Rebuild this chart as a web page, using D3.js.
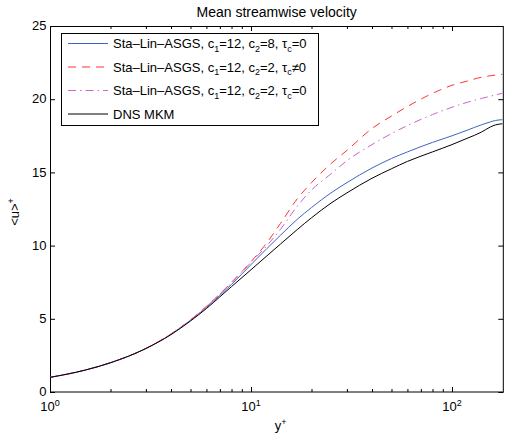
<!DOCTYPE html>
<html>
<head>
<meta charset="utf-8">
<script src="https://cdn.jsdelivr.net/npm/d3@7"></script>
<style>
  html, body { margin: 0; padding: 0; background: #fff; }
  svg text { font-family: "Liberation Sans", Arial, Helvetica, sans-serif; fill: #000; }
</style>
</head>
<body>
<svg id="chart" width="507" height="436"></svg>
<script>
// ---------------- data ----------------
const yPlus   = [1, 1.5, 2, 3, 4, 5, 6, 7, 8, 10, 12, 14, 17, 20, 25, 30, 40, 50, 60, 80, 100, 120, 140, 155, 165, 178];
const uC8     = [1.0, 1.5, 2.0, 2.97, 3.95, 4.9, 5.78, 6.6, 7.35, 8.7, 9.8, 10.7, 11.8, 12.6, 13.6, 14.3, 15.3, 15.95, 16.4, 17.05, 17.5, 17.9, 18.25, 18.45, 18.55, 18.6];
const uC2Tau  = [1.0, 1.5, 2.0, 2.98, 3.97, 4.93, 5.85, 6.7, 7.5, 8.9, 10.2, 11.5, 13.2, 14.3, 15.6, 16.5, 18.0, 18.85, 19.5, 20.4, 20.95, 21.25, 21.5, 21.6, 21.65, 21.7];
const uC2     = [1.0, 1.5, 2.0, 2.98, 3.96, 4.92, 5.83, 6.68, 7.45, 8.85, 10.0, 11.1, 12.7, 13.8, 14.9, 15.8, 16.9, 17.65, 18.2, 18.95, 19.45, 19.8, 20.05, 20.2, 20.3, 20.4];
const uDNS    = [1.0, 1.5, 2.0, 2.97, 3.92, 4.85, 5.7, 6.5, 7.2, 8.35, 9.3, 10.1, 11.1, 11.9, 12.9, 13.6, 14.6, 15.25, 15.75, 16.4, 16.9, 17.35, 17.75, 18.1, 18.25, 18.32];

const xDomain = [1, 180];
const yDomain = [0, 25];
const xMajorTicks = [1, 10, 100];
const xMajorExponents = ["0", "1", "2"];
const xMinorTicks = [2,3,4,5,6,7,8,9,20,30,40,50,60,70,80,90];
const yTicks = [0, 5, 10, 15, 20, 25];

const titleText = "Mean streamwise velocity";
const xLabelBase = "y", xLabelSup = "+";
const yLabelBase = "<u>", yLabelSup = "+";

// legend labels: segments [text, kind] where kind "" normal, "sub" subscript
const legendLabels = [
  [["Sta\u2013Lin\u2013ASGS, c",""],["1","sub"],["=12, c",""],["2","sub"],["=8, \u03C4",""],["c","sub"],["=0",""]],
  [["Sta\u2013Lin\u2013ASGS, c",""],["1","sub"],["=12, c",""],["2","sub"],["=2, \u03C4",""],["c","sub"],["\u22600",""]],
  [["Sta\u2013Lin\u2013ASGS, c",""],["1","sub"],["=12, c",""],["2","sub"],["=2, \u03C4",""],["c","sub"],["=0",""]],
  [["DNS MKM",""]]
];

const seriesValues = [uC8, uC2Tau, uC2, uDNS];
const seriesColors = ["#4062c4", "#ff3333", "#c866c4", "#000000"];
const seriesDash   = [null, "8,6", "8,4,1.5,4", null];

// ---------------- layout ----------------
const pLeft = 50, pTop = 26, pBottom = 392;
const decade = 201;
const pRight = pLeft + decade * Math.log10(xDomain[1]);
const FS = 13;

const svg = d3.select("#chart");

const x = d3.scaleLog().domain(xDomain).range([pLeft, pRight]);
const y = d3.scaleLinear().domain(yDomain).range([pBottom, pTop]);

svg.append("defs").append("clipPath").attr("id", "clip")
  .append("rect").attr("x", pLeft).attr("y", pTop).attr("width", pRight - pLeft).attr("height", pBottom - pTop);

// axes (ticks inward)
const axisStyle = g => {
  g.select(".domain").remove();
  g.selectAll("line").attr("stroke", "#000").attr("stroke-width", 1);
};
svg.append("g").attr("transform", `translate(0,${pBottom})`)
  .call(d3.axisBottom(x).tickValues(xMajorTicks).tickSize(-5).tickFormat(""))
  .call(axisStyle);
svg.append("g").attr("transform", `translate(0,${pBottom})`)
  .call(d3.axisBottom(x).tickValues(xMinorTicks).tickSize(-3).tickFormat(""))
  .call(axisStyle);
svg.append("g").attr("transform", `translate(0,${pTop})`)
  .call(d3.axisTop(x).tickValues(xMajorTicks).tickSize(-5).tickFormat(""))
  .call(axisStyle);
svg.append("g").attr("transform", `translate(0,${pTop})`)
  .call(d3.axisTop(x).tickValues(xMinorTicks).tickSize(-3).tickFormat(""))
  .call(axisStyle);
svg.append("g").attr("transform", `translate(${pLeft},0)`)
  .call(d3.axisLeft(y).tickValues(yTicks).tickSize(-5).tickFormat(""))
  .call(axisStyle);
svg.append("g").attr("transform", `translate(${pRight},0)`)
  .call(d3.axisRight(y).tickValues(yTicks).tickSize(-5).tickFormat(""))
  .call(axisStyle);

// frame
svg.append("rect").attr("x", pLeft + 0.5).attr("y", pTop + 0.5)
  .attr("width", pRight - pLeft - 0.5).attr("height", pBottom - pTop - 0.5)
  .attr("fill", "none").attr("stroke", "#000").attr("stroke-width", 1);

// y tick labels
svg.append("g").selectAll("text").data(yTicks).join("text")
  .attr("x", 46.5).attr("y", d => y(d)).attr("dy", "0.32em")
  .attr("text-anchor", "end").attr("font-size", FS).text(d => d);

// x tick labels with superscripts
const xl = svg.append("g").selectAll("text").data(xMajorTicks).join("text")
  .attr("x", d => x(d)).attr("y", 411).attr("text-anchor", "middle").attr("font-size", FS);
xl.append("tspan").text("10");
xl.append("tspan").attr("font-size", 9).attr("dy", -5).text((d, i) => xMajorExponents[i]);

// title
svg.append("text").attr("x", (pLeft + pRight) / 2).attr("y", 17).attr("text-anchor", "middle")
  .attr("font-size", 14).text(titleText);

// x label
const xt = svg.append("text").attr("x", (pLeft + pRight) / 2 + 4).attr("y", 430)
  .attr("text-anchor", "middle").attr("font-size", FS);
xt.append("tspan").text(xLabelBase);
xt.append("tspan").attr("font-size", 9).attr("dy", -5).text(xLabelSup);

// y label
const yt = svg.append("text").attr("transform", `translate(19,212) rotate(-90)`)
  .attr("text-anchor", "middle").attr("font-size", FS);
yt.append("tspan").text(yLabelBase);
yt.append("tspan").attr("font-size", 9).attr("dy", -5).text(yLabelSup);

// lines
const line = d3.line().x(d => x(d[0])).y(d => y(d[1])).curve(d3.curveMonotoneX);
const lines = svg.append("g").attr("clip-path", "url(#clip)");
seriesValues.forEach((vals, i) => {
  lines.append("path")
    .datum(yPlus.map((yp, k) => [yp, vals[k]]))
    .attr("d", line)
    .attr("fill", "none")
    .attr("stroke", seriesColors[i])
    .attr("stroke-width", 1)
    .attr("stroke-dasharray", seriesDash[i]);
});

// legend
const legX = 61, legY = 33, legW = 257, legH = 92, rowH = 23.5;
const leg = svg.append("g");
leg.append("rect").attr("x", legX + 0.5).attr("y", legY + 0.5).attr("width", legW).attr("height", legH)
  .attr("fill", "#fff").attr("stroke", "#000").attr("stroke-width", 1);
legendLabels.forEach((segs, i) => {
  const cy = legY + 10.5 + i * rowH;
  leg.append("line").attr("x1", legX + 7).attr("x2", legX + 47).attr("y1", cy).attr("y2", cy)
    .attr("stroke", seriesColors[i]).attr("stroke-width", 1).attr("stroke-dasharray", seriesDash[i]);
  const t = leg.append("text").attr("x", legX + 52).attr("y", cy + 4.5).attr("font-size", FS);
  let shifted = false;
  segs.forEach(([txt, kind]) => {
    const ts = t.append("tspan").text(txt);
    if (kind === "sub") {
      ts.attr("font-size", 9).attr("dy", shifted ? 0 : 3.5);
      shifted = true;
    } else {
      if (shifted) ts.attr("dy", -3.5);
      shifted = false;
    }
  });
});
</script>
</body>
</html>
